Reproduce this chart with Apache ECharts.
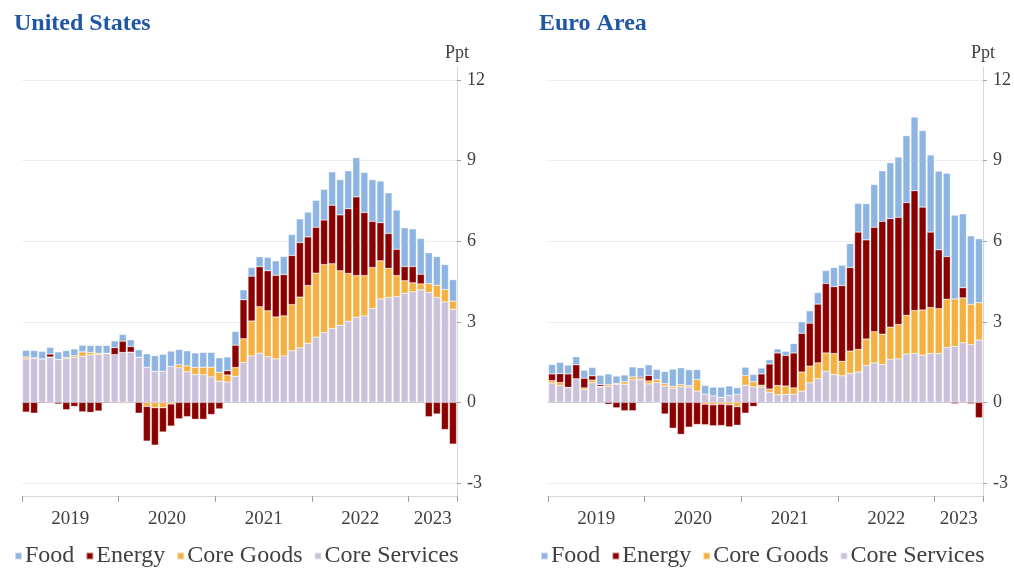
<!DOCTYPE html>
<html>
<head>
<meta charset="utf-8">
<script src="https://cdn.jsdelivr.net/npm/echarts@6/dist/echarts.min.js"></script>
<style>
html,body{margin:0;padding:0;background:#fff;}
#chart{width:1014px;height:568px;}
</style>
</head>
<body>
<div id="chart"></div>
<script>
// ---- categories (monthly, Jan 2019 - Jun 2023) ----
const months = [
 '2019-01','2019-02','2019-03','2019-04','2019-05','2019-06','2019-07','2019-08','2019-09','2019-10','2019-11','2019-12',
 '2020-01','2020-02','2020-03','2020-04','2020-05','2020-06','2020-07','2020-08','2020-09','2020-10','2020-11','2020-12',
 '2021-01','2021-02','2021-03','2021-04','2021-05','2021-06','2021-07','2021-08','2021-09','2021-10','2021-11','2021-12',
 '2022-01','2022-02','2022-03','2022-04','2022-05','2022-06','2022-07','2022-08','2022-09','2022-10','2022-11','2022-12',
 '2023-01','2023-02','2023-03','2023-04','2023-05','2023-06'
];
const yearLabelIdx = [6, 18, 30, 42, 51];
const yearTickIdx = [0, 12, 24, 36, 48];
const legendNames = ['Food', 'Energy', 'Core Goods', 'Core Services'];

// ---- United States (ppt contributions) ----
const usCoreServices = [1.62,1.63,1.62,1.68,1.60,1.63,1.68,1.72,1.77,1.78,1.81,1.78,
 1.86,1.87,1.68,1.31,1.16,1.16,1.34,1.29,1.14,1.04,1.03,0.95,
 0.79,0.76,0.97,1.49,1.73,1.83,1.70,1.62,1.73,1.92,2.03,2.20,
 2.43,2.60,2.75,2.87,3.02,3.17,3.22,3.50,3.85,3.90,3.94,4.06,
 4.12,4.19,4.09,3.90,3.74,3.47];
const usCoreGoods = [0.07,0.03,0.00,0.01,0.00,0.04,0.06,0.16,0.09,0.05,0.02,0.00,
 -0.04,0.00,0.00,-0.15,-0.20,-0.20,-0.06,0.11,0.22,0.26,0.28,0.36,
 0.33,0.26,0.33,0.88,1.30,1.73,1.71,1.56,1.49,1.72,1.89,2.15,
 2.38,2.53,2.41,2.03,1.78,1.55,1.50,1.52,1.42,1.09,0.78,0.47,
 0.33,0.22,0.33,0.46,0.46,0.30];
const usEnergy = [-0.36,-0.40,-0.03,0.11,-0.06,-0.27,-0.15,-0.35,-0.37,-0.32,-0.03,0.26,
 0.42,0.21,-0.40,-1.29,-1.39,-0.90,-0.82,-0.61,-0.53,-0.63,-0.63,-0.45,
 -0.24,0.16,0.83,1.45,1.67,1.49,1.49,1.55,1.54,1.83,2.03,1.81,
 1.71,1.66,2.18,2.08,2.41,2.93,2.35,1.72,1.42,1.30,0.98,0.53,
 0.61,0.36,-0.53,-0.43,-1.01,-1.55];
const usFood = [0.25,0.27,0.28,0.25,0.28,0.26,0.25,0.25,0.26,0.29,0.29,0.25,
 0.25,0.25,0.28,0.50,0.58,0.63,0.57,0.57,0.56,0.54,0.55,0.55,
 0.54,0.51,0.51,0.37,0.32,0.37,0.50,0.54,0.67,0.78,0.88,0.92,
 1.00,1.14,1.24,1.31,1.41,1.46,1.49,1.55,1.55,1.51,1.46,1.44,
 1.40,1.33,1.15,1.07,0.93,0.80];

// ---- Euro Area (ppt contributions) ----
const eaCoreServices = [0.72,0.63,0.54,0.88,0.47,0.73,0.57,0.59,0.67,0.68,0.84,0.84,
 0.69,0.74,0.61,0.53,0.59,0.57,0.42,0.31,0.24,0.19,0.26,0.30,
 0.64,0.58,0.57,0.38,0.28,0.30,0.30,0.42,0.73,0.88,1.16,1.04,
 0.99,1.08,1.13,1.37,1.47,1.41,1.60,1.62,1.80,1.82,1.76,1.82,
 1.82,2.04,2.09,2.22,2.15,2.32];
const eaCoreGoods = [0.09,0.11,0.02,0.00,0.07,0.10,0.03,0.07,0.04,0.09,0.11,0.05,
 0.11,0.11,0.09,0.07,0.07,0.06,0.43,-0.07,-0.09,-0.07,-0.09,-0.16,
 0.36,0.19,0.07,0.12,0.35,0.31,0.24,0.71,0.62,0.59,0.68,0.78,
 0.54,0.83,0.84,0.99,1.16,1.13,1.20,1.28,1.44,1.60,1.68,1.71,
 1.67,1.80,1.76,1.67,1.50,1.39];
const eaEnergy = [0.25,0.33,0.50,0.52,0.36,0.16,0.06,-0.07,-0.20,-0.31,-0.31,0.05,
 0.20,-0.02,-0.43,-0.96,-1.19,-0.92,-0.82,-0.76,-0.78,-0.79,-0.82,-0.69,
 -0.40,-0.15,0.42,0.93,1.21,1.14,1.30,1.44,1.60,2.19,2.59,2.49,
 2.82,3.11,4.37,3.69,3.89,4.20,4.04,3.99,4.20,4.46,3.83,2.81,
 2.19,1.59,-0.05,0.38,-0.05,-0.57];
const eaFood = [0.35,0.42,0.33,0.30,0.30,0.31,0.35,0.40,0.27,0.25,0.37,0.35,
 0.40,0.38,0.45,0.64,0.63,0.59,0.37,0.32,0.33,0.38,0.35,0.25,
 0.31,0.27,0.22,0.16,0.15,0.15,0.35,0.43,0.46,0.43,0.48,0.71,
 0.76,0.89,1.07,1.35,1.59,1.88,2.08,2.24,2.49,2.74,2.85,2.87,
 2.93,3.10,3.12,2.75,2.55,2.38];

// ---- styling ----
const SERIF = "'Liberation Serif', 'DejaVu Serif', serif";
const TXT = '#404040';
const COLORS = {
  'Core Services': '#ccc1da',
  'Core Goods': '#f5b042',
  'Energy': '#8b0000',
  'Food': '#8db4e2'
};

const option = {
  animation: false,
  backgroundColor: '#fff',
  title: [], grid: [], xAxis: [], yAxis: [], legend: [], series: []
};

function addPanel(k, left, right, titleLeft, titleText, cs, cg, en, fd) {
  const gi = 2 * k, go = 2 * k + 1;
  option.title.push({
    text: titleText, left: titleLeft, top: 7,
    textStyle: { fontFamily: SERIF, fontWeight: 'bold', fontSize: 24, color: '#1f57a5' }
  });
  option.grid.push({ left: left, right: right, top: 80, bottom: 85 });
  option.grid.push({ left: left, right: right, top: 67, bottom: 72 });
  // inner (data) axes
  option.xAxis.push({
    type: 'category', gridIndex: gi, data: months,
    axisLine: { show: true, onZero: true, lineStyle: { color: '#c9c3d3', width: 1 } },
    axisTick: { show: false }, axisLabel: { show: false }, splitLine: { show: false }
  });
  option.yAxis.push({
    type: 'value', gridIndex: gi, position: 'right', min: -3, max: 12, interval: 3,
    axisLine: { show: false },
    axisTick: { show: true, length: 4, lineStyle: { color: '#a6a6a6' } },
    axisLabel: { fontFamily: SERIF, fontSize: 18, color: TXT, margin: 10 },
    splitLine: { show: true, lineStyle: { type: 'dotted', color: '#dedede' } }
  });
  // outer (frame) axes
  option.xAxis.push({
    type: 'category', gridIndex: go, data: months,
    axisLine: { show: true, onZero: false, lineStyle: { color: '#d9d9d9' } },
    axisTick: {
      show: true, length: 6, lineStyle: { color: '#a0a0a0' },
      interval: function (i) { return yearTickIdx.indexOf(i) >= 0; }
    },
    axisLabel: {
      interval: function (i) { return yearLabelIdx.indexOf(i) >= 0; },
      formatter: function (v) { return v.slice(0, 4); },
      fontFamily: SERIF, fontSize: 19, color: TXT, margin: 14,
      padding: [0, 8, 0, 0]
    },
    splitLine: { show: false }
  });
  option.yAxis.push({
    type: 'value', gridIndex: go, position: 'right', min: 0, max: 1,
    axisLine: { show: true, lineStyle: { color: '#d9d9d9' } },
    axisTick: { show: false }, axisLabel: { show: false }, splitLine: { show: false },
    name: 'Ppt', nameLocation: 'end', nameGap: 5,
    nameTextStyle: { fontFamily: SERIF, fontSize: 18, color: TXT, align: 'center' }
  });
  option.legend.push({
    left: left - 13, top: 539, icon: 'rect', itemWidth: 7, itemHeight: 7, itemGap: 11,
    selectedMode: false, data: legendNames,
    textStyle: { fontFamily: SERIF, fontSize: 24, color: TXT, padding: [0, 0, 0, -2] }
  });
  const parts = [['Core Services', cs], ['Core Goods', cg], ['Energy', en], ['Food', fd]];
  parts.forEach(function (p) {
    option.series.push({
      type: 'bar', name: p[0], stack: 'stack' + k,
      xAxisIndex: gi, yAxisIndex: gi, data: p[1],
      barCategoryGap: '12%',
      itemStyle: { color: COLORS[p[0]], borderColor: 'rgba(255,255,255,0.55)', borderWidth: 0.5 },
      emphasis: { disabled: true }
    });
  });
}

addPanel(0, 22, 557, 9, 'United States', usCoreServices, usCoreGoods, usEnergy, usFood);
addPanel(1, 548, 31, 534, 'Euro Area', eaCoreServices, eaCoreGoods, eaEnergy, eaFood);

const chart = echarts.init(document.getElementById('chart'), null, { renderer: 'canvas' });
chart.setOption(option);
</script>
</body>
</html>
